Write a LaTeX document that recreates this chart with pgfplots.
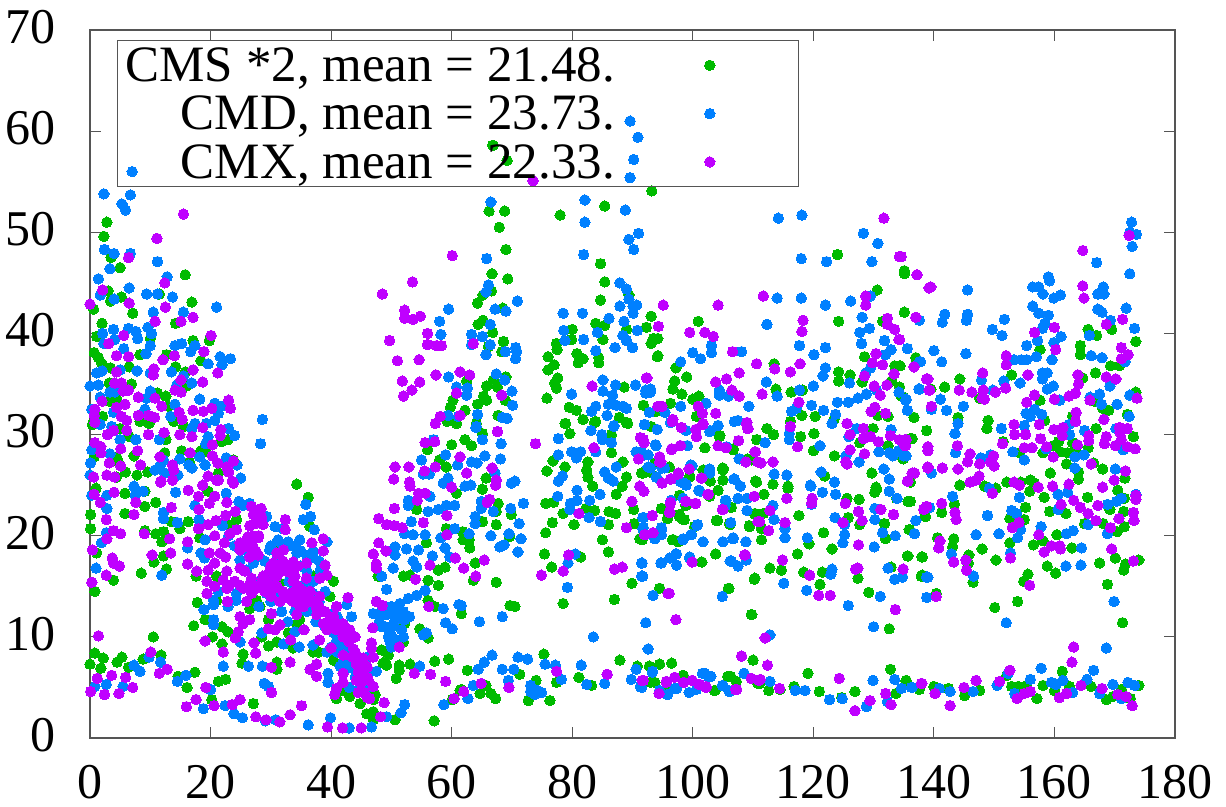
\documentclass[border=0pt]{standalone}
\usepackage{fontspec}
\usepackage{pgfplots}
\pgfplotsset{compat=1.18}
\setmainfont{Liberation Serif}
\definecolor{cg}{RGB}{0,187,0}
\definecolor{cb}{RGB}{0,128,255}
\definecolor{cp}{RGB}{191,0,255}
\definecolor{fr}{RGB}{85,85,85}
\begin{document}
\begin{tikzpicture}[x=1pt,y=1pt]
\path[use as bounding box] (0,0) rectangle (1226,806);
\begin{axis}[
 at={(90pt,68pt)},anchor=south west,
 width=1085pt,height=708pt,scale only axis,
 xmin=0,xmax=180,ymin=0,ymax=70,
 xtick={0,20,...,180},ytick={0,10,...,70},
 tick align=inside,major tick length=11pt,
 tick style={fr,line width=1.2pt},
 axis line style={fr,line width=1.6pt},
 clip=false,
 scaled ticks=false,
 /pgf/number format/assume math mode=true,
 ticklabel style={font=\fontsize{50}{54}\selectfont},
 xticklabel style={yshift=-24pt},
 yticklabel style={xshift=-31pt,yshift=3pt},
 legend style={at={(0.0249,0.9859)},anchor=north west,fill=none,draw=fr,line width=1.2pt,
   font=\fontsize{51}{55}\selectfont,inner xsep=6pt,inner ysep=5pt,row sep=9pt,
   /tikz/every even column/.append style={column sep=0pt}},
 legend cell align=right,
 legend plot pos=right,
 legend image code/.code={\path plot coordinates {(93pt,0pt)}; \path (176pt,0pt) (0pt,0pt);},
 every axis plot/.append style={only marks,mark=*,mark size=5.2pt,line width=0pt},
]
\addplot[cg,mark options={draw=cg,fill=cg}] coordinates {
(66.8,58.6)(69.2,57.1)(93.2,54.1)
(2.8,51)(2.3,49.6)(3.5,47.5)(5,46.5)(15.8,45.8)(3,44.2)(3.4,43.2)(5.2,43.6)(11.5,43.9)(0.6,42.4)(16.9,43.1)(7.1,42)(2,41)(14.2,41)(1.1,39.7)(10,39.5)(17.1,39.3)(19.8,39.3)(0.7,38.1)(1.4,37.6)(2,37)(8.3,37.9)(12.7,37.9)(18.4,37.3)(3.4,36.6)(6.5,36.7)(14.2,36.7)(15.8,36.2)(6.9,35)(3.2,35.1)(16,34.8)(12.6,33.8)(11.2,34.1)(3.3,33.3)(4.4,33.6)(2.1,31.8)(0.4,31)(8.3,31.3)(9.8,31.1)(13.9,31.3)(13,32.8)(15.5,30.8)(5,30.6)(6.5,29.8)(12.6,29.5)(21.8,29.3)(22.9,29.5)(12.4,28.2)(15.2,28.4)(18.4,28.4)(7.3,27.9)(4.4,27.8)(4.7,27.3)(0.7,27.8)(16.5,27.3)(19.3,28.3)(23.8,27.5)(21.3,26.2)(9.6,26.3)(7.8,26)(5.9,26.3)(4.4,25.8)
(34.3,25.1)(36.2,23.8)(0.1,22.1)(5.8,24.2)(9.1,24.4)(10.9,23.3)(9.1,22.9)(5.8,22.2)(0.1,20.7)(1,24.7)(13.5,21.4)(16.3,21.4)(14.9,20.7)(9.1,20.5)(10.9,20.2)(12.2,20.4)(11.9,19.4)(12.2,18)(10.6,17.4)(12.7,16.7)(8.5,16.3)(3.9,15.6)(0.8,14.5)(1.1,18.3)(17.6,16)(17.8,13.4)(17.2,11.1)(19.1,11.7)(21.9,11)(22.9,10.5)(20.3,10)(21.9,9.3)(10.5,10)(0.8,8.4)(2.2,7.9)(5.3,8)(4.5,7.5)(0,7.3)(1.8,6.9)(6.4,7)(8.8,7.8)(11.8,8.2)(14.6,6.1)(17.4,6.5)(16.1,5)(21.3,5.6)(22.5,5.8)(20.2,3.8)(27.1,3.4)(25.4,8.3)(25.2,7.4)(31,7.5)(31,6.8)(29.6,9.1)(31,9.5)(28.5,10)(26.5,12.8)(28.2,13)(29.6,11.7)(32.9,10.4)(33.7,8.9)(37,8.5)(37.9,8.5)(40.4,7.7)(43.1,4.1)(42,4.7)(40.9,3.9)(44.8,3.4)(45.9,2.4)(47,2.6)(47,1.8)(50.6,1.8)(57.1,1.7)(50.8,5.9)(51.3,7.2)(51.3,6.7)(53.1,7.3)(57.2,7.6)(59.5,7.8)(49.5,8.2)(48.6,7.4)(49.2,7.2)(48.4,11)(52,9.5)(52.2,11.3)(54.7,10.8)(56.1,9.9)(57.2,13)(56.1,13.6)(52,16)(53.1,16.1)(56.1,15.6)(57.8,15.1)(57.8,16.6)(58.9,16.9)(47.8,16)(54.2,22.6)(55.8,19.3)(59.1,26.8)(59.1,20.7)(60.8,24.2)(47,3.8)(47.3,4.3)(44.5,4.7)(48.4,8.7)(61.4,4.7)(60.1,3.8)(34.3,11.3)(40.4,15.5)(37,16)(27.6,13.6)(31.5,15.3)(39.8,14)(21,16)(21,13.6)(24.3,21.6)(19.6,24.4)(22.9,21.1)(18.2,19.8)(36.5,20.9)(31,19.3)(30.4,14)(34.8,11.7)
(66.9,58.6)(66.2,52.1)(68.8,52.1)(67.9,50.5)(69,48.3)(78,51.7)(85.4,52.6)(84.7,46.9)(66.7,45.9)(69.3,45.4)(85.4,45.1)(66.6,44.2)(65.2,43.8)(64.3,43)(84.7,43.3)(89.4,43.8)(68.5,42.5)(64.4,40.9)(65.2,41.3)(66.8,40.1)(93.1,41.7)(85.4,40.8)(83.9,41)(80,40.4)(92.3,40.6)(77.4,39)(79.9,39.4)(77.5,38.4)(85.1,39.4)(89,40.4)(93.4,39.4)(93.1,39)(68.6,39.2)(68.3,38.2)(66.1,38.7)(76,37.7)(80.8,38)(81.8,37.5)(81,37.1)(84.4,37.6)(84.4,37.1)(94.1,37.7)(77,36.9)(76,36.4)(77.6,35.6)(77.1,35.1)(77.4,34.6)(62.5,35.3)(60.2,33.4)(59.8,32.7)(62.2,32.4)(60.8,31.1)(59.3,31.3)(66.9,35.4)(65.8,34.8)(67.6,34.7)(69,35.7)(64.3,33)(65.3,33.8)(65.8,33.4)(68.9,33.4)(67.7,31.9)(64.1,31.1)(75.8,33.6)(79.5,32.7)(80.7,32.4)(78.9,31.1)(88.6,34.7)(91.8,32.9)(87.8,31.7)(89,31.2)(83.9,31.3)(93.9,32.3)(93.1,30.8)(56,28.5)(58,27.5)(60,29)
(78.8,31.1)(79.6,30.1)(81.8,31.5)(83.7,31.2)(86.5,30)(89.2,31.1)(86.5,28.2)(82.6,27.3)(82.4,26.5)(82.6,25.8)(83.4,24.9)(76.8,27.4)(75.8,26.4)(78.8,26.8)(88.4,27.3)(89,25.8)(88.3,24.9)(87.3,24.1)(75.6,23.2)(76.9,23.3)(78.5,22.2)(76.7,21.3)(75.6,20.3)(82.3,22.7)(83.7,22.5)(86.1,22.4)(87.2,22.2)(80.3,21.1)(86,21.1)(85,19.6)(86,18.4)(75.4,18.2)(76.6,16.9)(81.4,17.9)(89.9,15.3)(87,13.7)(78.5,13.3)(69.7,13.1)(70.5,13)(67.4,15.4)(67.4,21.1)(69.9,22.1)(65.1,21.4)(67.7,23.2)(67.4,22.4)(69.6,19.9)(65.1,24.6)(65.7,25.7)(63.9,17.3)(63.6,15.6)(62.9,19.6)(63,18.8)(61.9,19.6)(61.8,20.4)(61.6,12.3)(62.2,29.5)(63.3,28.9)(65.1,30.1)(90.2,22.6)(94.5,14.8)(90.3,21.2)(91.2,19.7)(91.5,26.2)(92.9,26.3)(93.9,27.2)(102,28.7)(98.4,21.6)(97.8,21.9)(95.8,21.7)(94.8,22.7)(97.8,24)(98.8,23)(103.9,21.5)(106.1,21.2)(109.4,21)(106.4,22.8)(103.8,18.2)(101.5,17.4)(96.8,19.6)(97.6,19.4)(110.3,15.8)(105.9,14.8)(109.7,12.2)(99.5,25.8)(102,26.4)(105,26.7)(105,25.5)(102.9,25.4)(104.2,24.5)(110.4,25.4)(106.7,28.5)(104.5,29.9)(110.6,29.5)(109.7,27.5)(110.3,22.1)
(62.6,6.7)(71.3,6.3)(75.3,8.3)(74,5.7)(77.4,5.5)(81.1,6)(83.2,5.2)(87.9,7.7)(90.8,7.1)(92.8,7.1)(94.5,7.3)(96.5,7.4)(93,5.5)(98.5,6.1)(105.8,6.1)(107.2,5.6)(103.6,4.7)(110,7.7)(110.8,5.4)(65.7,5.2)(64.7,4.4)(66.5,4.4)(67.3,3.9)(72.7,3.7)(76.3,3.7)(61.6,4.8)
(124,47.8)(135.1,46.2)(130.6,44.3)(124.2,41.2)(135.1,42.1)(93.1,41.7)(100.9,41.2)(92.3,40.6)(93.5,39.5)(94.2,39.5)(93.1,39)(94.2,37.8)(131.5,41.2)(113.5,37)(97.2,36.6)(99,35.7)(97,35.3)(96.7,34.5)(98.2,34)(100,33.5)(101,33.8)(128.5,37.7)(133.5,36.8)(134.4,36.8)(137,37.6)(124.2,36.2)(126.1,35.9)(124.2,35.3)(128.1,35.2)(133,35.3)(134.3,34.7)(113.8,34.5)(116.3,34.2)(118.2,34.4)(135,33.7)(96.3,33.1)(91.8,32.9)(100.6,31.8)(118.1,31.9)(120.3,31.8)(130.7,31.9)(132.4,31.8)(136.7,31.7)(123.5,31.6)(116.2,31.3)
(104.4,29.8)(112.3,30.6)(113.4,30)(110.6,29.5)(117.9,29.8)(120.1,30.1)(102,28.7)(106.7,28.6)(120,28.4)(123.5,27.9)(136.1,29.6)(127.7,29.2)(129.9,30.6)(132.4,28.9)(134.9,27.6)(109.1,27.6)(129.7,26.2)(101.7,26.5)(105,26.5)(96.1,26.8)(93.7,27.2)(91.8,26.2)(110.6,25.3)(113.3,25.1)(121.9,25.9)(99.5,25.9)(102.9,25.4)(105,25.5)(130.4,24.8)(115.8,24.9)(136.1,25.3)
(97.9,24)(98.9,23)(94.9,22.7)(95.8,21.7)(97.8,22.1)(98.6,21.6)(100.3,20.9)(96.6,19.6)(91.6,19.6)(94.5,14.8)(103.8,18.2)(101.5,17.4)(104.1,21.5)(106.2,21.1)(106.4,22.8)(111.8,24.1)(104.2,24.5)(102.8,23.9)(110.3,22.2)(111.7,22.2)(109.4,20.9)(111.4,19.6)(111.4,20.7)(117.6,22)(115.8,24.7)(121.7,20.3)(119.3,19.2)(117.4,18.2)(123.1,18.7)(125.6,23.7)(127.6,23.6)(125.8,21.8)(127.7,21.1)(131.8,21.2)(132,19.7)(136.1,23.4)(130.5,24.6)(130.2,24.3)(133.8,23.7)(135.9,20.6)(138.5,21.9)(135.6,18)(138,17.9)(138.1,16.1)(132.9,16.9)(112.8,16.8)(114.7,16.6)(118.4,16.4)(121.5,16.4)(127.4,15.8)(121.1,15.2)(110.2,15.7)(106,14.8)(129.2,14.4)(132.6,10.8)(109.8,12.2)
(92.8,7.1)(94.5,7.3)(96.5,7.4)(93.7,5.5)(95.6,4.8)(98.4,6.2)(103.7,4.7)(106.3,6.1)(107.2,5.6)(110,7.7)(111.1,5.4)(112.6,4.7)(114.5,4.8)(116.8,5.1)(119.1,6.4)(121,4.6)(124.7,4)(126.9,4.6)(132.8,6.8)(133.7,4.4)(135.4,5.7)(137.6,4.8)
(135.1,45.9)(135.1,42.1)(165.6,40.4)(167,39.8)(169.5,40.4)(173.5,39.2)(164.3,38.8)(164.3,37.9)(157.6,38.4)(137,37.6)(134.3,36.8)(169.3,36.8)(170.8,36.8)(152.9,35.9)(166.8,36.1)(164.7,35.6)(144.3,35.5)(134.3,34.7)(141.8,34.7)(139.5,34.5)(173.5,34.2)(134.6,33.8)(147.6,33.6)(157.6,33.4)(166.7,33.3)(169,32.4)(168,32.6)(136.7,31.7)(144,31.7)(149,31.4)(148.8,30.6)(138.8,30.4)(158.4,31.4)(163,31.8)(172.1,32)(166.9,30.6)(173.1,29.8)(136.4,29.6)(151.5,29.3)(159.8,28.9)(160.7,29.3)(163,29.2)(165.6,28.7)(154.2,28.2)(158.1,28.2)(161,28.3)(162.2,28.2)(163.6,28.7)(134.8,27.7)(162,27.1)(168,26.6)(159.3,26.2)(164,26.3)(164,25.6)(166.5,27.2)(171.7,25.7)(136,25.4)(144.3,25)(152.1,25.3)(154.4,25.3)(156,25.5)(156.7,25.2)(170.5,24.5)(148.4,24.9)(150.3,24.7)
(155.9,24.4)(158.3,23.8)(165.5,23.8)(135.7,23.4)(143.4,23.1)(141.3,22.3)(155.2,22.8)(159.2,22.4)(161.9,22.2)(138.6,21.9)(152.6,21.7)(155,21.6)(171.6,23.7)(169.2,22.6)(171.5,22.4)(165,21.2)(168.1,21.2)(136,20.6)(171.6,20.9)(170.4,20.4)(140.6,19.8)(143.3,19.7)(143.1,18.9)(148,18.7)(152.6,19.3)(156.5,19.1)(158.1,19.5)(160.4,20.1)(162.9,18.8)(135.7,18)(138.1,17.9)(145.8,18.1)(150.3,17.6)(158.8,17)(160.2,16.3)(167.5,17.3)(170.1,17.8)(171.8,17.2)(171.5,16.6)(174,17.6)(145.7,17.3)(137.9,16)(146.5,15.4)(155.6,16.2)(154.9,15.5)(168.8,15.2)(140.4,14.3)(153.9,13.5)(150.1,12.9)(171.3,11.4)
(161.3,6.6)(152.1,6.2)(135.4,5.6)(137.6,4.8)(140,5.1)(142.4,4.9)(145.1,4.2)(147.6,4.7)(152.9,5.1)(154,5.1)(155.4,5.2)(157.1,3.9)(158.1,5.2)(160,4.7)(162.5,5.1)(166.1,5.1)(168.6,3.8)(169.7,4.1)(171.1,4.8)(172.6,3.9)(174,5.2)
};
\addlegendentry{CMS *2, mean = 21.48.}
\addplot[cb,mark options={draw=cb,fill=cb}] coordinates {
(89.6,61)(90.9,59.4)(90.2,57.2)(89.6,55.4)(7,56)
(2.3,53.8)(6.7,53.7)(5.3,52.8)(5.9,52.2)(2.4,48.3)(4,47.9)(6.7,47.9)(3.3,46.4)(11.2,47.1)(1.4,45.4)(12.8,45.6)(6.5,44.5)(1.7,43.8)(4,43.4)(9.4,43.9)(11.2,43.9)(13.7,43.6)(21,42.6)(10.5,42.1)(15.5,42.1)(3.9,40.4)(2.1,40)(6.4,40.5)(7.6,40.2)(9.6,40.6)(10.2,40)(7.9,39.5)(2.3,39)(4.1,39.4)(5.6,38.5)(10,38.8)(14.1,38.8)(15.2,39)(17.4,38.8)(16.7,38.2)(9.3,38)(21.6,37.7)(23.3,37.5)(19.6,37)(21.9,36.9)(1.1,36.1)(2,36.3)(5,36.4)(7.8,36.3)(13.5,36.2)(10,36.1)(15.5,35.8)(16.9,35.1)(0,34.8)(1.4,34.9)(3.3,34.2)(4.1,34.2)(10,34.3)(14.4,34.9)(1.7,33.7)(9.4,33.6)(18.2,33.5)(14.1,33)(20.7,33.1)(21.8,32.8)(0.3,32.5)(3.9,32.2)(9.1,32.5)(13.4,31.8)(21.3,32.1)(20.7,31.4)(19.3,31.1)(17.4,31.1)(16.9,30.6)(1.7,31)(3.6,30.8)(28.6,31.5)(28.3,29.1)(23,30.6)(24,29.9)(19.6,29.8)(5,29.5)(7.6,29.5)(11.5,29.5)(19.2,29.1)(0.3,28.5)(3.3,28.1)(0.1,27.2)(18.2,27.8)(19.1,27)(14.9,27.6)(12.2,27.5)(11.6,26.9)(16.4,27)(16.9,26.7)(22.6,27.7)(24.4,27)(25,25.7)(0,26)(14.6,26)(10.8,26.5)(12.4,26.2)
(7.3,24.9)(7.5,24)(8.8,24.4)(14.2,24.3)(2.8,24)(0.3,24)(2.8,22.7)(12.2,22.3)(12.2,21.7)(14.5,21.3)(17.4,23)(18.1,21.6)(22.6,24.2)(24.7,23.4)(25.4,23)(26.5,23.2)(29.3,21.9)(30.7,20.9)(32,20.7)(35.4,21.6)(36.6,21.9)(35.8,23.1)(37.2,20.6)(34.8,19.6)(39.3,19.4)(32.9,19.4)(31.2,19.6)(19.1,19.6)(2.7,20.3)(1.9,19.3)(16.2,18.8)(18.4,18.3)(19,17.8)(1,16.8)(11.9,16.1)(21.3,14.5)(20.5,13.6)(20.5,13.2)(18.9,12.7)(22.9,13)(24.2,13.6)(20.5,11.7)(20.5,11.2)(28.5,10.4)(24.9,9.5)(32.1,9.3)(34.7,9)(34,10.5)(32.8,11.5)(31.8,12.5)(42.6,13.2)(43.4,12)(40.4,12.3)(37,9.2)(39.3,8.5)(41.5,7.1)(42.6,8)(44.8,7.6)(39.5,6.4)(39.5,5.5)(44.5,4.7)(47.5,6.6)(22.1,7.1)(26.3,7.1)(28.6,7.1)(28.9,5.4)(29.6,5.1)(7.3,7.2)(8.3,6.6)(9.8,8)(11.7,7.5)(0.8,5.1)(2.7,5.3)(5.5,5.1)(14.5,5.6)(15.9,6.2)(20,4.8)(18.8,2.9)(22.4,3.2)(23.9,2.4)(25.3,2)(29.1,1.7)(30.8,1.8)(36.2,1.3)(39.9,2)(43,1)(46.7,1.1)(49.2,2.1)(51.6,2.5)(52.2,3.3)(58.7,3.3)(54.7,7.1)(55.8,10.4)(55.3,10.2)(60.1,10.8)(59,11.4)(58.6,12.8)(49.8,9.5)(49.8,10.4)(48.4,11)(47,12.3)(48.1,12.3)(49.2,12.2)(50.6,12)(51.7,10.7)(51.4,13.3)(52.2,11.7)(52.8,13.8)(54.2,14.1)(55.6,14.6)(49.2,14.7)(48.4,16)(50.3,16.8)(50.6,18.1)(50.6,18.9)(52.5,18.7)(54.5,18.6)(53.6,17.5)(54.2,16.9)(56.8,18)(58.9,18.8)(59.7,17.9)(58.2,19.8)(52.2,20.2)(53.6,20.1)(55.6,20.1)(53.3,21.4)(56.1,22.4)(57.8,22.6)(59.1,23)(60.5,23)(52.8,23.5)(52.8,23)(56.4,23.9)(58.6,25.2)(59.4,25.7)(55.3,26.1)(56.3,26.1)(60.5,20.7)(61.2,13.2)
(26,16.6)(27.1,17.3)(24.9,17.6)(29.8,18.6)(31,17.6)(34.3,18.3)(37,17.9)(38.2,16.6)(39.3,16.1)(31.5,14)(33.7,14.6)(37,14.3)(29.3,14.3)(24.3,14.3)(38.2,12.7)(41.5,10.5)(40.9,9.6)(42.6,9.7)(44.2,6.4)(40.4,10.4)(45.9,6.1)(33,16.5)(36,15.5)(35,17)(39,14.5)(30,15.5)(28,15.5)(41,12)(43,9)
(27,18)(28,18)(29,17.5)(30,17)(30,19)(32,19)(33,19)(35,18.5)(36,18)(37,18.5)(38,17.5)(36,16.5)(37,15.5)(34,19)(26,18.5)(25.5,19)(24,19)(23,20)(22,21)(30,13.5)(28,13)(34,12.5)(36,12.5)(37.5,11.5)(39,11)(40,9)(41,8.5)(42,7.5)(43,7)(44,6)(44,8)(46,5)(45,6)(46,8)(43,5)(42,9)(38,13.5)(35,15)(33,15.5)(30,16)
(48,11.5)(49,11)(50,11)(50.5,11.5)(51,12)(49,12.8)(50,13)(51,12.5)(52,12.5)(53,12)(48.5,13)(49.5,10)(50.5,9.8)(50,9)(52,10)
(66.5,53)(82.1,53.2)(88.8,52.2)(82.1,51)(91,49.9)(89.4,49.3)(90.2,48.3)(81.9,47.8)(65.8,47.4)(66.1,44.8)(65.7,44.1)(87.9,45)(89,44.4)(89.4,43.4)(90.7,42.8)(90.1,42.7)(90.1,42)(87.9,42.7)(70.9,43.2)(59.5,42.4)(67.2,42.4)(69,42.2)(78.5,42)(81.7,42)(86.1,41.5)(88.6,41.2)(58,41.2)(66.4,40.9)(90.8,40.3)(78.6,40.3)(84.2,40.1)(78.8,39.3)(58.2,39.9)(63.3,39.9)(65.1,39.7)(88.4,39.8)(89,39.3)(81.9,39.4)(66.4,38.9)(63.3,38.9)(70.6,38.6)(70.8,38.2)(68.9,38.2)(70.6,37.5)(65.7,37.9)(83.9,38.3)(87.1,38.6)(90,38.6)(59.5,35.7)(67.4,36)(68.8,35.4)(62.6,34.6)(60.8,34.7)(62.5,33.9)(70,34.3)(70.1,32.9)(85.1,35.4)(87.2,34.9)(90.5,34.9)(92.2,34.4)(92.2,34.1)(79.9,34)(85.1,34.3)(86.7,33.9)(86,33)(87.3,32.9)(88.4,32.8)(89,32.6)(83.9,32.8)(83.2,32.3)(85.8,31.9)(92.8,32.2)(64.3,32)(59.4,31.9)(68.4,31.7)(69.2,31.6)(64.1,30.8)(86.9,30.9)(92,31)(61.1,31.8)(57,29.5)(59,28)(55,27.5)(61,27)
(63.6,5.2)(62.7,3.9)(64.4,6.8)(65.4,7.5)(66.7,8.2)(68.4,6.8)(70.3,6.8)(69.4,5.7)(71,8)(72.6,7.8)(75.5,7.3)(77.2,7.2)(78.2,5.8)(73.1,5.2)(73.1,4.6)(73.8,4.3)(74.9,4.5)(74.2,4.7)(81.5,7.2)(83.5,10)(82.4,5.3)(85.4,5.4)(89.8,5.8)(90.6,6.8)(93.3,6.6)(92.6,8.8)(91.3,5.1)(94.5,4.7)(95.8,4.3)(97.3,4.9)(99.4,4.5)(100.6,4.8)(101.6,6.4)(102.6,6.1)(104.9,5.2)(106,4.7)(108.5,6.4)
(92.2,11.4)(64.6,11.5)(68.4,12)(61.6,13.1)(79.2,14.9)(79.3,17.3)(80.5,18.2)(71,18.4)(68.7,19.1)(68,18.9)(66.5,20)(69.5,20.2)(71.5,19.7)(71.2,21.2)(63.9,21.9)(63.9,21.2)(62.9,20.2)(66.9,22.4)(64.9,22.7)(64.9,23.4)(69.8,22.7)(71.9,23.2)(69.9,25.2)(70.5,25.4)(62.2,24.9)(63.2,25)(67.2,26.2)(68.1,27.6)(65.5,27.9)(63.3,27.3)(64.2,27.2)(65.1,29.5)(68.2,29.1)(64,30.7)(77.7,29.6)(77.7,28)(79.9,28.3)(80.7,27.7)(81.4,28.3)(83.9,28.3)(83.1,30.4)(84.9,30)(85,29.5)(86.5,29.2)(86.9,30.8)(87.3,26.8)(85.4,26.3)(86,25.7)(86.8,25.4)(77.7,25.4)(78.4,25.9)(80.8,24.5)(77.6,23.9)(79.7,23.2)(80.8,23.5)(79.6,22.6)(82.9,23.5)(84.6,24.1)(82.8,21.8)(84.7,21.4)(91.5,17.3)(91.5,16)(94.7,17.3)(96.2,17.8)(97.3,18.2)(97.3,17.1)(99.5,17.9)(93.4,14.1)(104.9,14)(106.4,17.5)(107.5,17)(108.9,17.6)(101.7,19.4)(105,19.4)(106.7,19.7)(108.8,19.4)(98.4,19.6)(99.8,20.1)(100.7,21)(106.3,21.3)(91.7,21.8)(91.8,20.8)(93.7,19.7)(94.8,20.8)(94.8,20.1)(91.5,28.3)(90.6,28.3)(93.9,28.9)(92.6,28)(93,26.7)(94.9,26.7)(94.1,30.5)(92,31)(99.7,27)(102.8,26.3)(93.9,25.8)(97.9,25.4)(98.9,25)(101,24.5)(105.5,23.5)(107.5,23.7)(109,23.7)(109,22.5)(107.9,24.9)(106.8,25.6)(107.8,27.6)(104.2,30.9)(102.8,30.3)(106.9,31.3)(99.1,28.9)
(114.2,51.4)(118.1,51.7)(128.3,49.9)(130.7,48.9)(118,47.4)(122.2,47.1)(129.7,47.1)(114,43.5)(118,43.5)(122,42.8)(126.2,43.2)(129.5,43.7)(112.3,40.9)(128.1,41.6)(129.3,40.5)(127.7,40.1)(137.6,41.3)(131.8,39.3)(128,39)(103.1,38.8)(103.1,38.1)(100,38.1)(101.3,37.5)(108.1,38.2)(117.7,38.8)(122,38.6)(120.1,37.9)(132.9,38.4)(132,37.9)(135.6,38.5)(98,37.2)(122,36.6)(121.6,35.8)(129.5,36.6)(128.7,36.1)(137.8,37.2)(112.2,35.2)(120,34.8)(126,35.1)(93,34.5)(93,34.2)(104.4,34.4)(104.4,33.9)(105.9,33.8)(114,33.8)(117.7,34.4)(134.2,34.2)(137.5,34.5)(102.2,33.1)(98,32.8)(109.3,32.8)(119.7,32.9)(124,33.2)(125.8,33.2)(127.4,33.6)(128.8,34)(130.5,34.4)(135.4,33.5)(92.8,32.2)(95.4,32.2)(116.4,32.3)(117.2,32.6)(121.7,32.4)(123.7,32)(135.6,32.4)(107.5,31.4)(92,31)(104.2,30.9)(123.1,31.1)
(94.1,30.5)(96.3,31.2)(98.9,30.4)(102.9,30.4)(116,30.1)(116,29.5)(112,29.2)(125.9,29.8)(127.2,30.6)(132.9,30.5)(93.8,29)(99.1,28.9)(105.6,28.8)(121.1,28.9)(130.9,28.3)(132.6,28.2)(133.2,27.9)(135.4,27.9)(134.1,28.4)(125.4,27.9)(107.7,27.6)(127.6,27.3)(92,28)(92.6,26.8)(95.3,26.7)(99.9,26.9)(102.8,26.6)(102.8,26.2)(94,25.8)(98.1,25.3)(98.9,25.1)(106.9,25.6)(107.9,24.9)(113.5,26.1)(115.6,26)(121.3,26.3)(123.5,25.3)(119.5,25)(131.7,26.6)(132.6,25.6)
(96.4,23.5)(98.4,23.7)(101.2,24.4)(105.4,23.5)(105.4,23)(107.5,23.7)(109,23.7)(113.3,23)(100.8,21.1)(93.7,19.8)(94.8,20.1)(94.8,20.6)(91.7,20.7)(91.8,21.8)(98.4,19.7)(99.7,20.1)(101.7,19.4)(105,19.4)(106.7,19.8)(108.8,19.4)(106.3,21.3)(109,22.5)(113.5,21.6)(115.3,20.7)(115.3,19.8)(119,19.8)(119.6,24.9)(121.5,24.3)(123.7,24.1)(119.7,23.1)(123.6,21.8)(125.2,21.1)(125.2,20.1)(124.9,19.3)(130.1,18.9)(130.2,22.7)(130.2,21.6)(131.5,20.3)(133.6,20)(136.8,20.2)(137,21.5)(133.9,23.7)(132.6,24.4)(94.8,17.3)(96.2,17.8)(97.2,18.2)(97.3,17.1)(99.5,17.8)(91.6,17.3)(91.7,16)(106.2,17.5)(107.5,17)(108.9,17.6)(93.4,14.1)(104.9,14)(115.1,15.3)(118.9,14.6)(123.1,16.7)(122.9,16.2)(132.4,16.8)(133.5,15.7)(134.8,15.9)(138.8,15.9)(131.1,14)(125.8,13.1)(138.8,13.9)(130,11)(92.2,11.4)(92.6,8.8)(112.8,10.2)
(93.3,6.5)(94.5,4.7)(95.8,4.3)(91.5,5)(97,4.9)(99.4,4.5)(100.6,4.8)(102,6.4)(103,6.1)(105,5.2)(106.1,4.6)(108.5,6.4)(112.8,5.6)(117,4.7)(118.6,4.7)(122.7,3.8)(124.8,3.9)(128.8,3.1)(129.9,5.7)(132.3,3.6)(133.5,5.8)(134.6,4.9)(136.4,5)
(172.8,51)(172.5,50)(173.6,49.8)(172.9,48.6)(167,47)(172.5,45.9)(145.6,44.3)(159,45.6)(159.2,45.2)(156.4,44.6)(157.4,44.6)(158.1,43.9)(159.9,43.5)(161,43.8)(168.1,44.6)(167.2,43.9)(168.2,43.9)(141.8,41.9)(141.4,41.1)(145.6,41.9)(145.4,41.3)(151.7,41.4)(149.7,40.4)(151.3,39.8)(156.4,42.7)(157.4,42)(159,41.8)(158.4,41)(158,40.5)(167.2,42.4)(167.9,42.1)(171.9,42.5)(169.3,41.3)(137.6,41.3)(173.3,40.5)(161.1,39.7)(157.2,39.3)(159.9,39.1)(165.8,39.8)(135.6,38.5)(140,38.3)(145.3,38)(155.4,38.8)(157,37.7)(153.3,37.4)(154.5,37.4)(155.4,37.4)(159.6,37.4)(166.1,37.8)(167.9,37.6)(141.3,37.2)(137.6,37.2)(158,36.1)(158.8,36.1)(158,35.5)(154.3,35.1)(147.9,35.4)(151.6,35.3)(137.6,34.5)(159.8,34.8)(158.8,34.5)(169.2,34.8)(171.7,37.2)(149.8,34.4)(172.5,33.9)(141.1,33.5)(135.3,33.4)(165.9,33.7)(167.5,34)(160.9,33.4)(167.8,33)(170.4,33)(135.6,32.4)(139.6,32.5)(142.1,32.4)(144.9,32.8)(155.3,32.1)(156.7,32.5)(156,31.8)(157.9,32)(172.4,31.8)(144,31.1)(143.5,30.1)(151.2,30.6)(155,30.9)(162.4,31)(165,30.4)(162.5,30)(170.2,30.6)(171.4,28.5)(135,27.9)(143.6,28.2)(153.1,28.3)(158.6,28.6)(155,27.5)(163.4,27.8)(164.9,28)(163.4,26.7)(170.1,26.6)(139.6,26.2)(147.8,27.7)(149.4,28)
(143.1,23.9)(149.2,24.7)(154.2,23.8)(160.6,24.1)(162.2,24.3)(168.8,23.1)(170.3,23.4)(171.1,23.7)(173.5,24.1)(139.3,22.8)(148.9,22)(152.9,22.5)(153.7,22.2)(160.6,22.6)(137,21.5)(165.6,21.1)(136.8,20.2)(147,20.1)(150.8,20.2)(154.4,20.6)(153.9,19.8)(157.8,20.9)(162,20.2)(163.1,20.5)(168.8,20.2)(164.5,18.8)(142.9,18.2)(152.7,18.3)(139,15.9)(134.8,15.9)(161.9,17)(164.4,17.1)(146.6,16)(138.8,13.9)(152,11.4)(169.9,13.5)(168.6,8.9)
(157.8,6.9)(166.5,6.7)(152.3,6.4)(156,5.8)(161.4,5.7)(165.4,5.8)(169.7,5.3)(172.2,5.5)(173.3,5.2)(159.5,5.5)(160.3,5.3)(150.5,5.2)(153.4,4.4)(134.6,4.9)(136.3,5)(140.9,4.9)(142.7,4.6)(146.5,4.6)(163,4.5)(167.5,4.4)(171.1,3.9)
};
\addlegendentry{CMD, mean = 23.73.}
\addplot[cp,mark options={draw=cp,fill=cp}] coordinates {
(73.5,55.1)
(15.5,51.8)(11.1,49.4)(6.4,47.5)(12.4,45)(2.1,44.3)(6.5,43)(0,42.9)(12.5,42.6)(10.8,41.2)(15.1,41.2)(17.1,41.6)(5.6,39.8)(3.1,39)(20.1,39.8)(4.4,37.8)(6.4,37.7)(14,37.8)(18.9,38.2)(12.1,37.4)(10.6,36.5)(10.5,35.9)(4.4,36.2)(17.1,36.4)(21.2,36.1)(15.1,35.4)(18.7,35.2)(4.1,35.1)(5.2,35.1)(5.5,34.3)(6.4,34.4)(14.1,34.4)(15.1,34.2)(8,33.7)(10.8,33.6)(2,33.3)(5.8,33)(4.4,32.7)(11.9,32.8)(23,33.4)(23.3,32.6)(20.2,32.6)(18.8,32.3)(17.1,32.4)(14.8,32.2)(0.8,32.5)(0.7,31.9)(0.8,31.2)(5.2,31.8)(6.1,31.4)(8,31.9)(9.7,31.9)(10.7,31.7)(15.3,31.5)(18.7,30.7)(21.7,30.5)(21.6,29.9)(6.1,30.4)(3.9,30.4)(2.9,30)(9.7,30)(12.3,30.2)(14.9,30)(16.9,29.8)(20.3,29)(0.8,29.2)(1.8,28.8)(1.8,28.2)(5.1,28.6)(7.9,28.4)(16.6,28.2)(20.3,27.9)(11.6,27.8)(3.2,27.2)(5.1,26.9)(8.4,27)(13.7,27)(13.9,26.5)(21.2,27.2)(23.8,27.4)(22.7,26.8)(23,26.3)(2.8,26)(4.1,25.8)(0.6,25.8)(19.6,25.9)(11.8,25.4)(13.7,25.5)(21,25.5)(23.6,25.4)
(50.6,26.8)(52.9,26.8)(50.4,25.6)(53,25.3)(53.1,24.9)(54.5,24.2)(55.6,24.2)(54.3,23.5)(60,24.8)(57.3,26.8)(50.5,22.7)(47.9,21.7)(49.2,21.1)(50.5,21)(51.8,20.8)(55.3,21.3)(59.2,22)(59.2,20.1)(47.9,19.3)(47,18.2)(49.1,18.5)(47.5,17.2)(47.5,16.8)(56.4,17.1)(54,15.7)(60.6,17.8)(47.5,13.5)(48.5,13.1)(56.2,13)(46.9,10.9)(51.3,9)(46.7,9.4)(46.7,8.9)(53.8,6.4)(56.5,6.3)(59,5.6)(60.4,3.9)(48.8,3.5)(48.2,2.1)(45,1)(41.9,1)(39.4,1.1)(31.5,1.6)(29.2,1.8)(27.5,2.1)(33.2,2.3)(35.1,3.2)(24.9,3.8)(23.6,3.3)(20.6,3.2)(17.6,3.8)(16,3.1)(19.2,5)(12.8,6.8)(11.5,6.4)(10.1,8.5)(1.4,10.1)(1.2,5.9)(3.6,6.2)(5.9,6)(7.1,5)(4.8,4.4)(2.4,4.3)(0.1,4.6)(19.1,9.6)(22.1,8.5)(33.2,7.5)(30.1,7)(30.1,4.5)(36.5,6.8)(37.6,7.3)(37.6,6.1)(27.2,9.4)(27.5,8.4)(24.1,9.9)(24.6,10.5)(25.4,11.3)(24.9,12)(26.5,11.7)(30.1,12.3)(29.6,10.8)(30.7,10.7)(31.5,11.2)(33.3,9.7)(35.5,10.7)(40,8.9)(42,8.2)(38.1,9.7)(34.3,12.2)(34.8,13)(42.8,13.9)(22.8,13.5)(19.4,14.3)(19.4,15.5)(0.3,15.4)(2.7,16.1)(4.9,17)(3.9,17.3)(3.7,17.8)(0.4,18.6)(2.8,19.7)(3.9,20.5)(5.1,20.2)(9,20.2)(13.2,19.7)(10.3,18.1)(13.4,18.3)(16.2,19.4)(16.2,17.2)(17.7,16.5)(19.6,16.6)(20.7,17.3)(19.8,18.3)(21.6,18.3)(22.5,17.9)(22.3,19.3)(20.7,20)(18,20.7)(19.6,21.1)(20.9,21.5)(22.5,22)(24.1,22.4)(18.1,22.6)(13.5,22.8)(7.3,22.1)(7.6,23.3)(4,24.3)(1.7,23.3)(0.7,24.1)(2.7,21.6)(16.3,24.5)(18,23.9)(19.8,23.2)(22.7,23.3)(20.7,23.9)(18.7,25)(21.3,25.5)(23.8,25.2)(13.7,25.5)(11.7,25.3)(26.8,22.9)(28.4,22.7)(27.1,22.1)(28.5,21.8)(27.4,21.2)(28.7,21.1)(32.4,21.6)(32.4,20.6)(23.2,20.2)(24.3,20.6)(26.2,19.9)(27.9,19.8)(24.9,19.3)(26.2,18.9)(24.9,18.6)(26.5,17.9)(27.9,18.1)(36.8,19.3)(38.7,19.7)(38.7,18.5)(39,17.1)(31,18.3)(32.1,18.6)(33.7,17.4)(30.4,17.3)(32.1,17.3)(35.9,17.3)(24.9,16.8)(25.7,16.5)(22.7,16.5)(22.1,15.6)(20.7,15)(22.7,14.8)(24.9,15.1)(26.8,15.8)(28.7,16)(29.8,16.5)(31,16.8)(33.7,15.5)(35.9,15.8)(38.1,15.8)(39.3,16.1)(27.6,14.8)(29.3,14.8)(26.8,14.3)(26,13.5)(31.5,13.5)(33.2,14.3)(34.8,14.8)(36.5,14.5)(38.1,14)(33.7,13.5)(35.4,13)(37.6,12.2)(40.9,13)(38.7,11.3)(40.4,12)(42,11.3)(43.1,10.7)(39.3,10.7)(40.9,10.7)(44,10)(43.7,8.8)(45.3,7.9)(47,8)(44.2,7.3)(45.9,7.1)(45.3,6.4)(44.2,5.7)(46.2,5.7)(42,6.4)(42,5.5)(40.9,4.9)(40.6,4.3)(45.3,4.5)(47,5.1)(46.4,3.9)
(30,17)(30.5,16)(31,16)(31.5,17)(32,17.5)(32.5,16.5)(33,17)(33.5,16.3)(34,16)(34.5,17)(28,15)(29,14.5)(28.5,15.5)(29.5,15.3)(30,14)(30.5,14.8)(31,15)(32,14.5)(32.5,14)(33,13.8)(33.5,14)(34,14.5)(34.5,15)(35,14)(35.5,14.5)(36,14)(36.5,13.5)(37,13.5)(37.5,13)(38,13)(38.5,12.5)(39,12.5)(39.5,11.5)(40,11)(40.5,11)(41,11.3)(41.5,10.8)(42,10)(42.5,10.5)(43,9.5)(43.5,8)(44,8.5)(44.5,8)(45,7.5)(45.5,7)(46,7)(46,6)(45,5.5)(44.5,6.5)(45.5,4.5)(46,4)(44.5,4.5)(27,15)(26.5,15.2)(25.5,14.8)(23,15)(24,15.5)(25,19)(26,19.5)(27,19)(27.5,18.5)(27,20)(28,20)(26.5,21)
(60.1,47.7)(53.5,45.1)(48.5,43.9)(52.2,42.3)(52.2,41.5)(53.6,41.4)(54.8,41.7)(56,40)(49.7,39.3)(56,38.9)(57.5,38.8)(58.3,38.8)(63.6,39)(51,37.3)(54.6,37.4)(61.4,36.2)(63,35.9)(57.4,35.9)(51.8,35.3)(54.7,35.2)(53.4,34.4)(52,33.8)(83.3,34.8)(92.4,35.6)(60.8,34.1)(68.3,33.9)(61.4,31.9)(58.1,31.8)(57.3,31.1)(94.2,32.8)(55.6,29.2)(57.2,29.3)(55.5,26.4)
(67.6,30.3)(73.9,29.1)(61.4,27.8)(66.7,26.7)(62.5,26.2)(67.4,25.5)(67.3,25)(66.3,23.6)(65.9,23.3)(83.6,28.7)(81.1,22.2)(79.4,18.1)(78.5,16.5)(74.9,16.1)(65.4,17.6)(62,16.8)(64,16)(89,20.8)(89.9,23.4)(87,16.7)(88.3,16.9)(95.9,14.3)(97.2,11.7)(108.6,18.1)(99.9,17.4)(91.3,29.7)(91.9,29.2)(91,27.6)(94.5,27.8)(94.7,27.3)(96.5,28.6)(97.9,28.9)(96.6,31.3)(98.1,30.7)(100.5,30.5)(100.6,29.8)(101.7,31.1)(108.9,31.1)(109.2,30.6)(107.6,29.4)(104.2,28.9)(105.5,28.7)(110.3,28.3)(108.8,27.3)(110.8,27.3)(99.4,26.6)(97.6,26.2)(96.3,25.6)(94.9,25.2)(101.4,25.7)(91.2,24.9)(91.9,24.4)(96.3,23.2)(96.1,22.3)(98.8,23.4)(100.4,23.2)(102.5,24.1)(110.2,23.9)(104.9,22.6)(93.3,22)(110.8,21.4)(92,20.1)(93.4,20.3)
(62,4.6)(64.9,5.4)(69.5,5)(77.4,6.6)(85.8,6.3)(91.6,5.7)(95.6,5.5)(97,6)(98.5,5.5)(99.9,5.7)(101,5.3)(102.2,5.1)(94.4,4.4)(107.3,4.8)(108.1,8.1)(109.7,5.9)(111,5.7)
(131.7,51.4)(134.3,47.6)(137.2,45.8)(139.2,44.5)(111.7,43.7)(128.7,43.7)(128.7,42.8)(95.1,42.8)(104.2,42.8)(118.3,41.3)(118.1,40.2)(132.3,41.5)(132.3,40.9)(133.5,40.4)(134.2,39.4)(137,41.6)(94.3,40.7)(99.5,40.1)(102,40.1)(103.4,39.7)(106.6,38.2)(110.6,37)(113.6,36.5)(116.2,36.2)(117.8,37)(130.4,38)(129.8,37.1)(131.5,36.9)(136.7,36.7)(128.5,35.8)(133.4,36)(107.7,36.1)(103.8,35.2)(105.6,35.5)(92.3,35.6)(106.5,34.4)(107.7,33.8)(111.5,34)(130.1,34.8)(132.2,34.9)(131.1,33.9)(138.8,35.5)(139.2,34.4)(117.6,33.2)(94.9,32.8)(100.9,32.8)(101.6,32.1)(103.8,32.1)(130.2,32.7)(129.6,32.3)(132,32.1)(96.7,31.5)(101.7,31)(109,31.2)(109.1,30.6)(116.2,30.8)(125.6,31.1)
(91.8,29.5)(98.1,30.7)(100.5,30.5)(100.6,29.8)(107.6,29.4)(96.5,28.5)(98,28.9)(104.2,28.9)(105.5,28.7)(110.4,28.3)(117.4,28.8)(126.1,30)(128.3,30.6)(128.3,29.6)(129.5,29.8)(130.8,29.3)(132.8,29.9)(134.3,29.5)(135.4,29.5)(135.3,28.9)(126.1,28.5)(128.5,28.1)(125.4,27.3)(125.6,27.1)(94.5,27.8)(94.5,27.3)(99.4,26.6)(108.8,27.3)(111.3,27.2)(113.3,27.3)(97.6,26.1)(96.4,25.6)(94.9,25.2)(101.5,25.7)(139,28.8)(139,26.8)(136.8,26.2)(135.7,25.4)
(96.3,23.3)(98.9,23.4)(100.5,23.2)(102.6,24.1)(96.2,22.3)(93.3,22)(105,22.6)(110.2,23.9)(115.6,23.7)(119.8,23.7)(119.7,23.2)(125.3,23.2)(112.8,22.5)(111.1,21.4)(115.3,21.3)(112.6,20.5)(127.5,22.4)(128.1,21.5)(124.9,21.3)(131.2,22.6)(133.3,22.1)(138.5,22.7)(138.8,22.9)(127.5,19.1)(93.4,20.3)(92.1,20.1)(114.9,17.6)(108.7,18.1)(99.9,17.4)(96.1,14.3)(119.4,16.1)(120.9,14.1)(122.8,14.1)(127,16.7)(127.4,16.8)(134.9,16.7)(97.2,11.7)(133.6,12.7)(112,9.9)
(108.1,8.1)(112.4,7.2)(124.3,5.9)(109.7,5.9)(111.2,5.8)(91.8,5.7)(95.6,5.6)(97,6)(98.5,5.5)(99.9,5.7)(101.2,5.3)(102.2,5)(107.1,4.8)(94.4,4.4)(114.4,4.9)(132,4.4)(129.4,3.7)(126.9,2.7)(132.9,3.3)(138,5.4)
(134.6,47.6)(137.2,45.8)(139.5,44.6)(164.7,48.2)(172.4,49.7)(164.7,44.7)(164.9,43.5)(137,41.6)(171.3,41.4)(168.6,40.9)(160,40.6)(156.7,40.1)(134.3,39.4)(171.1,38.6)(160.2,38.4)(172.2,37.9)(171.1,37.5)(152,37.8)(152,36.9)(136.7,36.7)(148.1,36.1)(155.6,35.9)(163.9,35.9)(139,35.5)(168.6,35.7)(170.2,35.5)(164,35)(151.9,34.6)(139.3,34.4)(144.2,34.4)(146.3,34.2)(148.2,34.4)(150.2,34.2)(156.7,33.9)(163.5,34.1)(162.4,33.8)(155.4,33.2)(160,33.5)(165.9,33.4)(173.7,33.6)(148,33.6)(148.4,33.5)(139.6,32.8)(163.6,32.2)(163.5,31.3)(168.2,31.5)(153.3,31)(153.4,30)(157.5,31)(155.2,30)(159.9,30.5)(161.4,30.7)(161.3,29.9)(170.8,30.7)(172.1,30.6)(170.9,30.2)(168.6,29.8)(165.7,29.9)(165.7,29.4)(171.1,29.5)(168.3,29.1)(157.7,29.6)(151.4,29.1)(135.2,29.5)(135.2,28.9)(143.9,28.9)(155,28.7)(156.3,28.7)(158.7,28.8)(163.8,29)(170.1,28.9)(172.1,28.8)(173.4,28.6)(139,28.4)(159.8,27.8)(146,28.1)(149.9,27.9)(145.6,27.3)(147.6,27.1)(149.4,27.3)(150,26.9)(139,26.7)(141.4,26.7)(144,26.6)(166.1,27.1)(171.8,26.4)(136.4,26.2)(135.6,25.4)(147.5,25.9)(147,25.5)(146,25.3)(169.9,25.5)(153.3,25.3)(154.2,25)(157.3,24.8)(159.7,24.9)(162.4,25.1)(168,24.8)
(149.7,24.2)(141.3,23.2)(163.2,23.5)(161.1,23.1)(164.3,22.8)(167.2,23)(173.5,24)(173.5,23.6)(138.8,22.9)(138.3,22.6)(143.5,22.3)(143.7,21.6)(165.6,22.2)(173.1,22.3)(173.2,21.5)(170.7,21.7)(166.9,21.5)(169.3,20.8)(154.1,21.3)(153,20.8)(157.4,20.1)(141,19.5)(140.8,18.8)(159.5,19)(160.9,19)(161,18.7)(158.3,18.4)(169.5,18.7)(152.7,17.8)(143.3,17.4)(145.3,17.6)(145.4,16.6)(134.9,16.7)(173.1,17.5)(155.9,15.1)(140.4,14)(163.2,9)(162.9,7.5)(152.6,6.7)
(137.9,5.4)(150.9,5.6)(147,5.7)(145,5)(167.9,4.9)(164.4,5.2)(140.2,4.4)(153.8,3.9)(155,4.4)(156,4.6)(160.8,4)(162,4.4)(170.5,4.3)(171.9,4.1)(172.9,3.2)(142.7,3.2)
};
\addlegendentry{CMX, mean = 22.33.}
\end{axis}
\end{tikzpicture}
\end{document}
